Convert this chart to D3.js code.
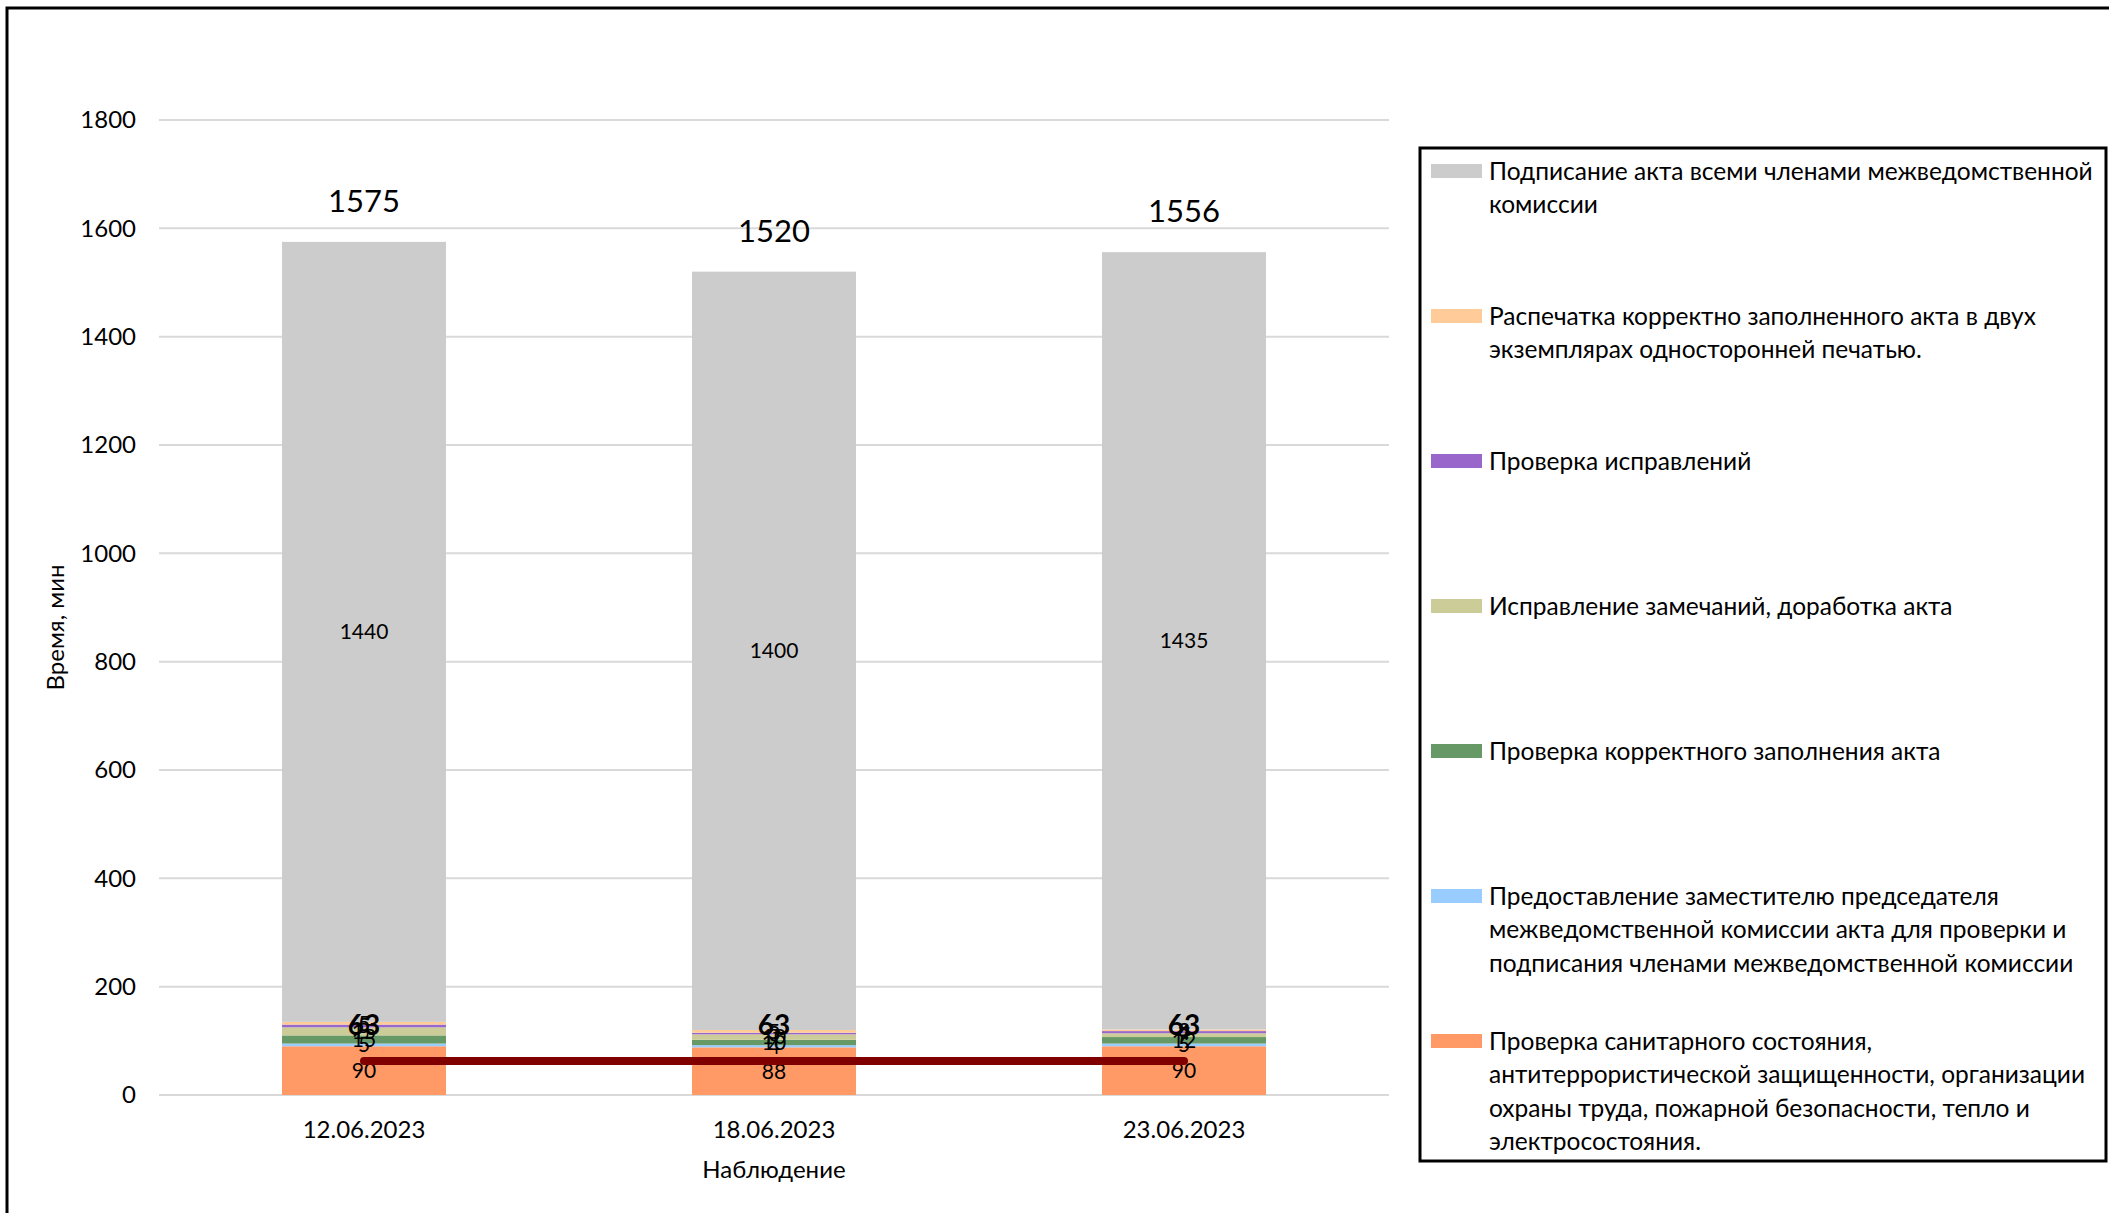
<!DOCTYPE html>
<html>
<head>
<meta charset="utf-8">
<script src="https://cdn.jsdelivr.net/npm/d3@7"></script>
<style>
  html, body { margin: 0; padding: 0; background: #fff; }
  svg { display: block; font-family: Lato, "Open Sans", sans-serif; }
</style>
</head>
<body>
<svg id="chart" width="2109" height="1213"></svg>
<script>
// Observation dates
const categories = ["12.06.2023", "18.06.2023", "23.06.2023"];

// Stack order, bottom to top
const seriesNames = [
  "Проверка санитарного состояния,\nантитеррористической защищенности, организации\nохраны труда, пожарной безопасности, тепло и\nэлектросостояния.",
  "Предоставление заместителю председателя\nмежведомственной комиссии акта для проверки и\nподписания членами межведомственной комиссии",
  "Проверка корректного заполнения акта",
  "Исправление замечаний, доработка акта",
  "Проверка исправлений",
  "Распечатка корректно заполненного акта в двух\nэкземплярах односторонней печатью.",
  "Подписание акта всеми членами межведомственной\nкомиссии"
];
const seriesColors = ["#ff9966", "#99ccff", "#669966", "#cccc99", "#9966cc", "#ffcc99", "#cccccc"];

// Minutes per stage, one array per stage (same order as seriesNames)
const sanitaryCheck   = [90, 88, 90];
const handOver        = [5, 4, 5];
const fillCheck       = [15, 10, 12];
const corrections     = [15, 10, 7];
const correctionCheck = [5, 3, 4];
const printing        = [5, 5, 3];
const signing         = [1440, 1400, 1435];

const totals   = [1575, 1520, 1556];
const taktLine = [63, 63, 63];

const yTicks = [0, 200, 400, 600, 800, 1000, 1200, 1400, 1600, 1800];

const seriesValues = [sanitaryCheck, handOver, fillCheck, corrections, correctionCheck, printing, signing];

const rows = categories.map((c, i) => {
  const r = { cat: c };
  seriesValues.forEach((arr, k) => { r["s" + k] = arr[i]; });
  return r;
});
const keys = seriesValues.map((_, k) => "s" + k);
const stacked = d3.stack().keys(keys)(rows);

const svg = d3.select("#chart");
const plot = { left: 159, right: 1389, top: 120, bottom: 1095 };
const baseFont = 24;

// Outer frame
svg.append("rect")
  .attr("x", 7).attr("y", 8).attr("width", 2120).attr("height", 1230)
  .attr("fill", "none").attr("stroke", "#000").attr("stroke-width", 3);

const x = d3.scaleBand().domain(categories)
  .range([plot.left, plot.right]).paddingInner(0.6).paddingOuter(0.3);
const y = d3.scaleLinear().domain([0, 1800]).range([plot.bottom, plot.top]);

// Gridlines
svg.append("g")
  .selectAll("line").data(yTicks).join("line")
  .attr("x1", plot.left).attr("x2", plot.right)
  .attr("y1", d => y(d)).attr("y2", d => y(d))
  .attr("stroke", "#d9d9d9").attr("stroke-width", 2);

// Y axis labels
const yAxis = svg.append("g").attr("transform", `translate(${plot.left - 23},0)`)
  .call(d3.axisLeft(y).tickValues(yTicks).tickFormat(d3.format("d")).tickSize(0).tickPadding(0));
yAxis.select(".domain").remove();
yAxis.selectAll("text").attr("font-size", baseFont).attr("fill", "#000")
  .attr("font-family", "Lato, sans-serif");

// X axis labels
const xAxis = svg.append("g").attr("transform", `translate(0,${plot.bottom})`)
  .call(d3.axisBottom(x).tickSize(0).tickPadding(26));
xAxis.select(".domain").remove();
xAxis.selectAll("text").attr("font-size", baseFont).attr("fill", "#000")
  .attr("font-family", "Lato, sans-serif");

// Axis titles
svg.append("text")
  .attr("transform", `translate(64,${(plot.top + plot.bottom) / 2 + 20}) rotate(-90)`)
  .attr("text-anchor", "middle").attr("font-size", baseFont).text("Время, мин");
svg.append("text")
  .attr("x", (plot.left + plot.right) / 2).attr("y", 1178)
  .attr("text-anchor", "middle").attr("font-size", baseFont).text("Наблюдение");

// Stacked bars
const layers = svg.append("g").selectAll("g").data(stacked).join("g")
  .attr("fill", (d, i) => seriesColors[i]);
layers.selectAll("rect").data(d => d).join("rect")
  .attr("x", d => x(d.data.cat))
  .attr("width", x.bandwidth())
  .attr("y", d => y(d[1]))
  .attr("height", d => y(d[0]) - y(d[1]));

// Segment value labels
const segLabels = svg.append("g");
stacked.forEach(layer => {
  layer.forEach(d => {
    segLabels.append("text")
      .attr("x", x(d.data.cat) + x.bandwidth() / 2)
      .attr("y", (y(d[0]) + y(d[1])) / 2)
      .attr("dy", "0.35em")
      .attr("text-anchor", "middle")
      .attr("font-size", 21)
      .text(d[1] - d[0]);
  });
});

// Totals above bars
svg.append("g").selectAll("text").data(categories).join("text")
  .attr("x", d => x(d) + x.bandwidth() / 2)
  .attr("y", (d, i) => y(totals[i]) - 30)
  .attr("text-anchor", "middle").attr("font-size", 31)
  .text((d, i) => totals[i]);

// Takt time line
const line = d3.line()
  .x((d, i) => x(categories[i]) + x.bandwidth() / 2)
  .y(d => y(d));
svg.append("path").datum(taktLine)
  .attr("d", line).attr("fill", "none")
  .attr("stroke", "#800000").attr("stroke-width", 8).attr("stroke-linecap", "round");
svg.append("g").selectAll("text").data(taktLine).join("text")
  .attr("x", (d, i) => x(categories[i]) + x.bandwidth() / 2)
  .attr("y", d => y(d) - 36)
  .attr("dy", "0.35em")
  .attr("text-anchor", "middle").attr("font-size", 28).attr("font-weight", "bold")
  .text(d => d);

// Legend
const legend = svg.append("g");
legend.append("rect")
  .attr("x", 1420).attr("y", 148).attr("width", 686).attr("height", 1013)
  .attr("fill", "#fff").attr("stroke", "#000").attr("stroke-width", 3);
const legendOrder = d3.range(seriesNames.length).reverse();
legendOrder.forEach((k, j) => {
  const cy = 171 + j * 145;
  legend.append("rect")
    .attr("x", 1431).attr("y", cy - 7).attr("width", 51).attr("height", 14)
    .attr("fill", seriesColors[k]);
  const t = legend.append("text").attr("x", 1489).attr("y", cy).attr("font-size", 24.5);
  seriesNames[k].split("\n").forEach((ln, li) => {
    t.append("tspan").attr("x", 1489).attr("dy", li === 0 ? "0.35em" : 33.6).text(ln);
  });
});
</script>
</body>
</html>
